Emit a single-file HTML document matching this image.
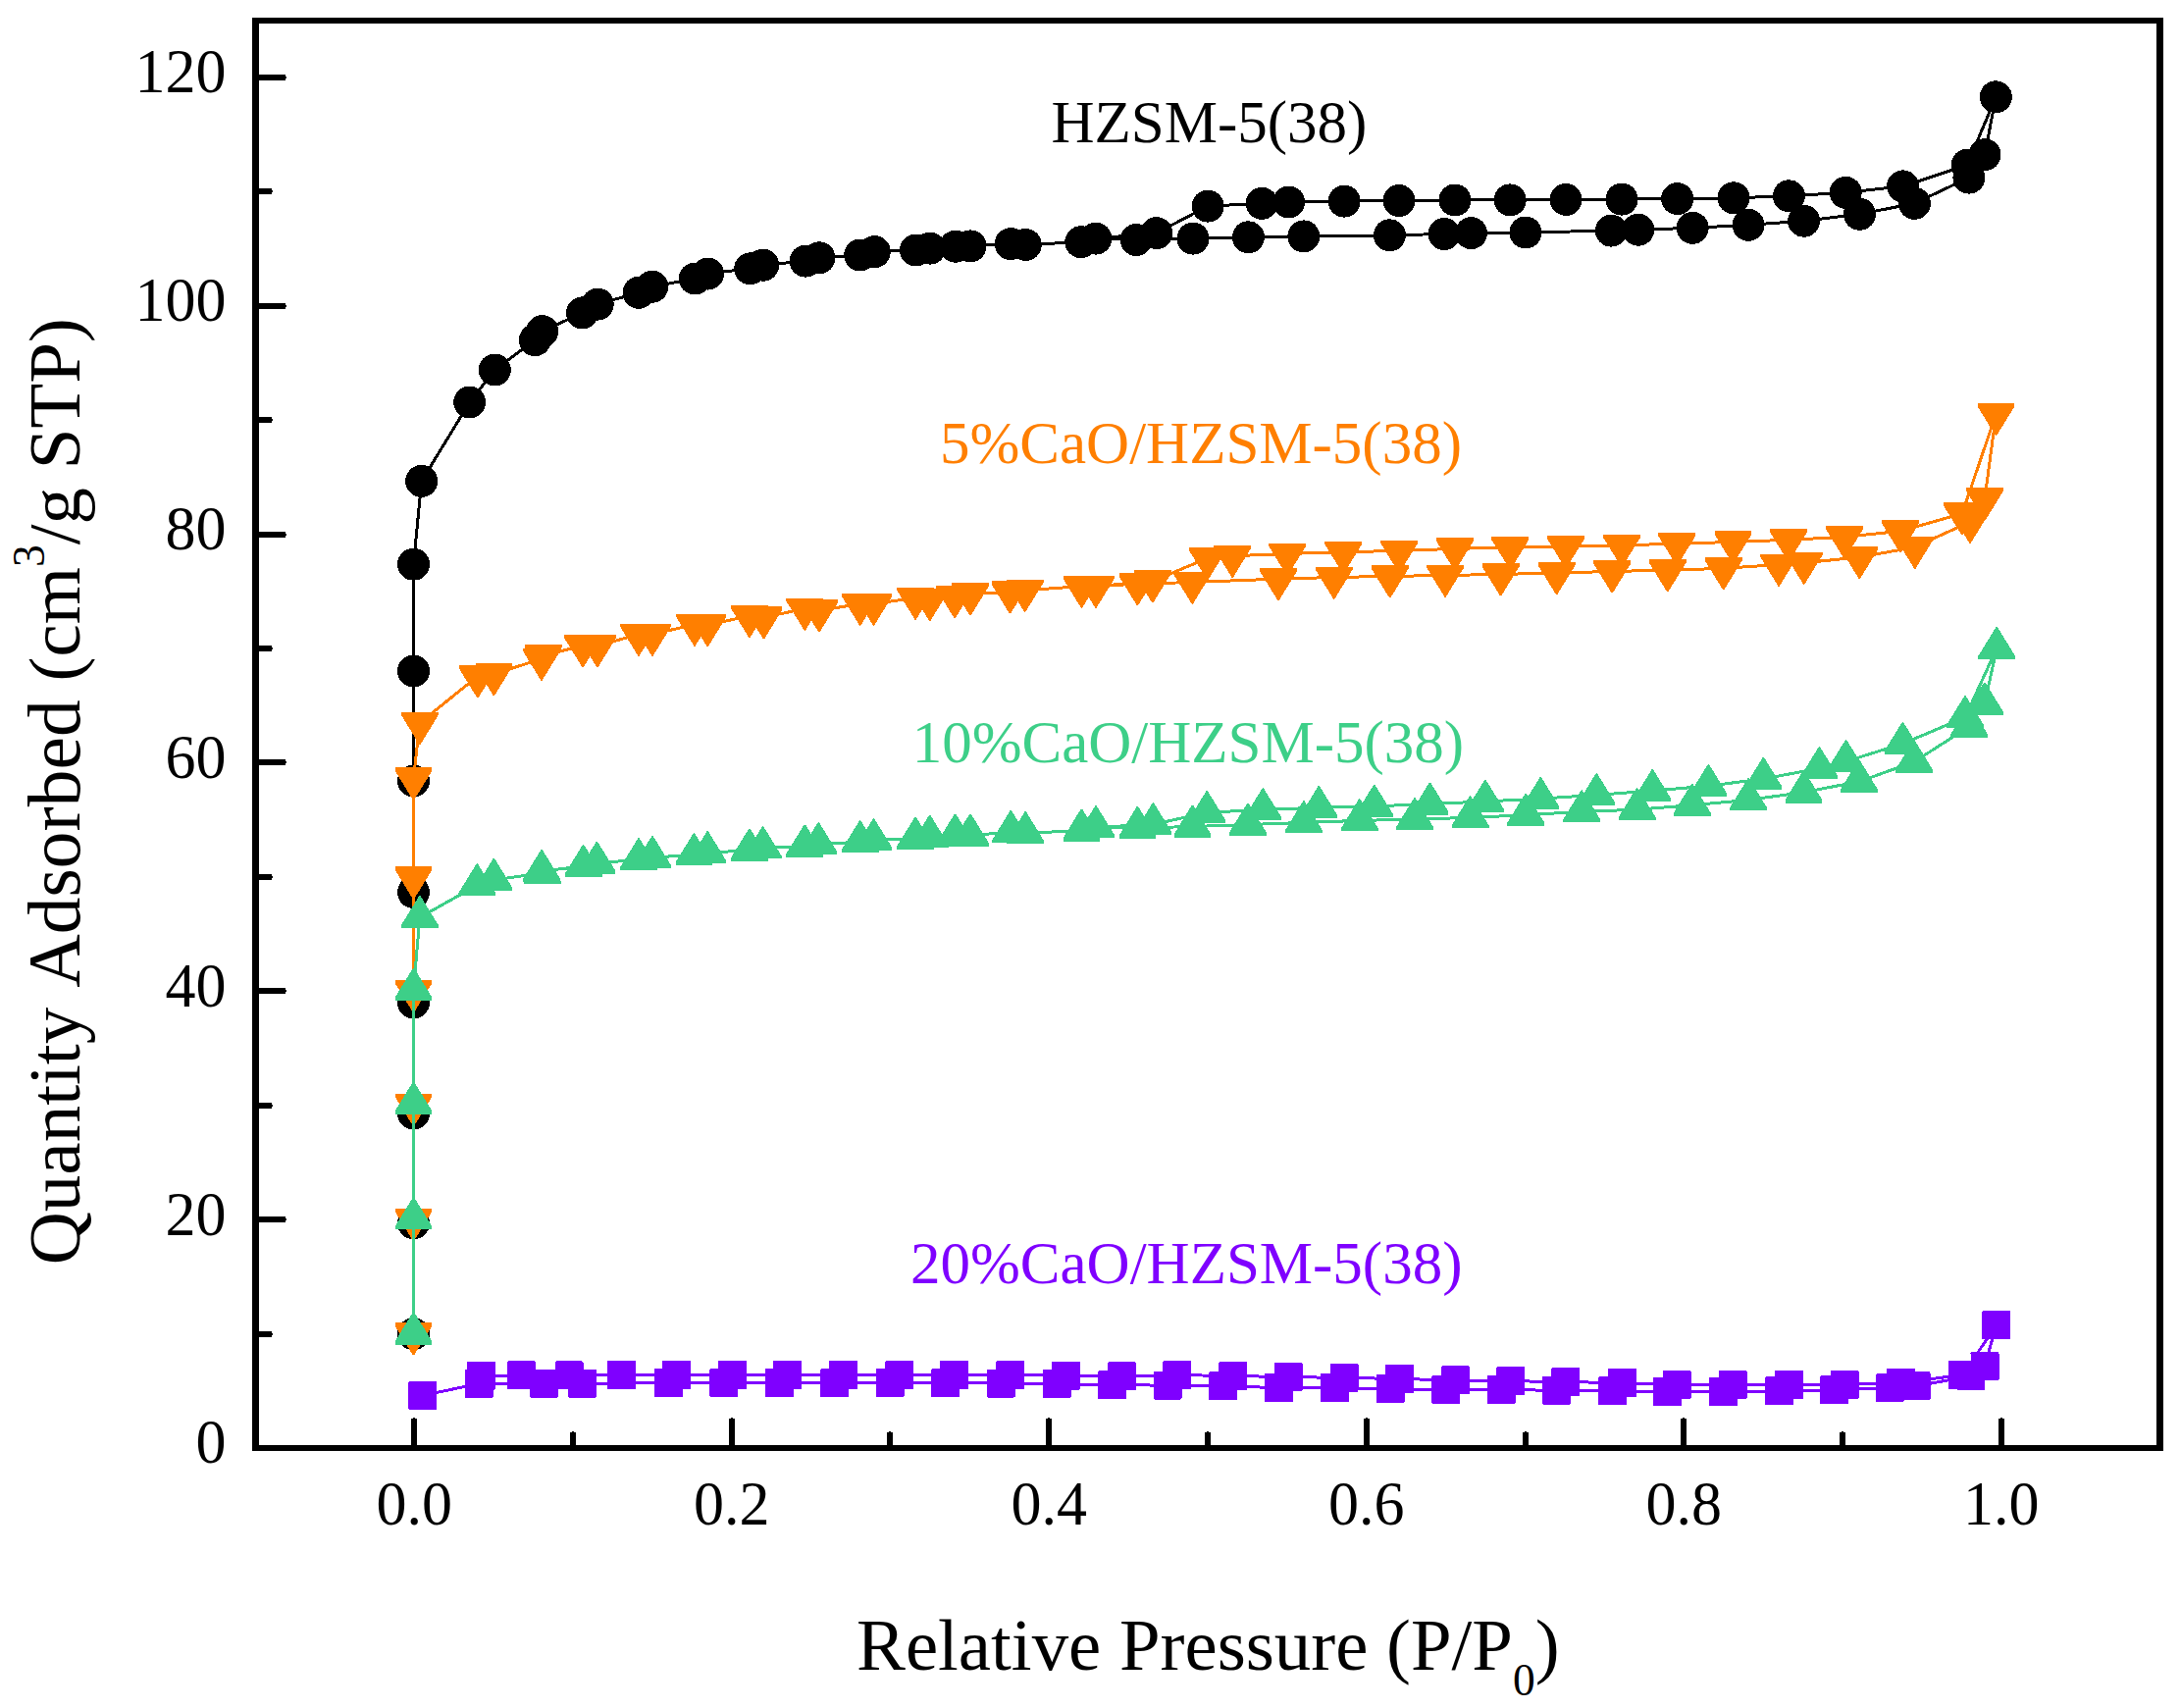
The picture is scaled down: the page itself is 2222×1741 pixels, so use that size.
<!DOCTYPE html>
<html lang="en">
<head>
<meta charset="utf-8">
<title>N2 adsorption-desorption isotherms</title>
<style>
html,body{margin:0;padding:0;background:#fff;}
body{width:2222px;height:1741px;overflow:hidden;}
svg{display:block;}
text{white-space:pre;}
</style>
</head>
<body>
<svg width="2222" height="1741" viewBox="0 0 2222 1741">
<rect width="2222" height="1741" fill="#fff"/>
<g id="series" shape-rendering="crispEdges">
<g id="s-black" fill="#000000">
<polyline points="421.5,1359.7 421.5,1246.8 421.5,1135 421.5,1021.9 421.5,909.5 421.5,795.9 421.5,684.1 421.5,575.2 429.7,490.4 478.7,410 504.3,377 545.3,346.7 552.8,337.6 593.5,318.9 609.2,310.1 651,298.3 664.8,292.2 708.3,284 721.5,279 764.7,273.8 777.7,270.2 821.1,266.1 834.9,262.8 876.7,260 891.3,256.7 933.4,255 947.8,253.1 973.9,251.2 989,250.9 1030.2,248.6 1045.3,249.5 1101.8,246.7 1116.9,243.1 1158.2,244.5" fill="none" stroke="#000000" stroke-width="3" stroke-linejoin="round"/>
<polyline points="1158.2,244.5 1216,243.1 1272.4,241.8 1328.8,240.9 1416.4,239.8 1472,238.5 1499.5,237.6 1555,237 1642.3,235.1 1669.8,234.2 1725.2,232.3 1782.1,229.3 1838.6,225.2 1895.5,218.3 1951.4,207.3 2006.9,181.1 2023,157.7 2034.3,98.8" fill="none" stroke="#000000" stroke-width="3" stroke-linejoin="round"/>
<polyline points="2034.3,98.8 2005.1,168.2 1939.6,189.9 1881.2,196.3 1823.4,199.8 1767,201.8 1709.7,202.6 1653,203.1 1596.1,203.4 1539.2,203.9 1483,204 1426,204.6 1370.1,205.1 1313.7,206 1286.2,207.3 1231.1,210.1 1178.8,237.6 1116.9,243.1" fill="none" stroke="#000000" stroke-width="3" stroke-linejoin="round"/>
<circle cx="421.5" cy="1359.7" r="16.5"/>
<circle cx="421.5" cy="1246.8" r="16.5"/>
<circle cx="421.5" cy="1135" r="16.5"/>
<circle cx="421.5" cy="1021.9" r="16.5"/>
<circle cx="421.5" cy="909.5" r="16.5"/>
<circle cx="421.5" cy="795.9" r="16.5"/>
<circle cx="421.5" cy="684.1" r="16.5"/>
<circle cx="421.5" cy="575.2" r="16.5"/>
<circle cx="429.7" cy="490.4" r="16.5"/>
<circle cx="478.7" cy="410" r="16.5"/>
<circle cx="504.3" cy="377" r="16.5"/>
<circle cx="545.3" cy="346.7" r="16.5"/>
<circle cx="552.8" cy="337.6" r="16.5"/>
<circle cx="593.5" cy="318.9" r="16.5"/>
<circle cx="609.2" cy="310.1" r="16.5"/>
<circle cx="651" cy="298.3" r="16.5"/>
<circle cx="664.8" cy="292.2" r="16.5"/>
<circle cx="708.3" cy="284" r="16.5"/>
<circle cx="721.5" cy="279" r="16.5"/>
<circle cx="764.7" cy="273.8" r="16.5"/>
<circle cx="777.7" cy="270.2" r="16.5"/>
<circle cx="821.1" cy="266.1" r="16.5"/>
<circle cx="834.9" cy="262.8" r="16.5"/>
<circle cx="876.7" cy="260" r="16.5"/>
<circle cx="891.3" cy="256.7" r="16.5"/>
<circle cx="933.4" cy="255" r="16.5"/>
<circle cx="947.8" cy="253.1" r="16.5"/>
<circle cx="973.9" cy="251.2" r="16.5"/>
<circle cx="989" cy="250.9" r="16.5"/>
<circle cx="1030.2" cy="248.6" r="16.5"/>
<circle cx="1045.3" cy="249.5" r="16.5"/>
<circle cx="1101.8" cy="246.7" r="16.5"/>
<circle cx="1116.9" cy="243.1" r="16.5"/>
<circle cx="1158.2" cy="244.5" r="16.5"/>
<circle cx="1216" cy="243.1" r="16.5"/>
<circle cx="1272.4" cy="241.8" r="16.5"/>
<circle cx="1328.8" cy="240.9" r="16.5"/>
<circle cx="1416.4" cy="239.8" r="16.5"/>
<circle cx="1472" cy="238.5" r="16.5"/>
<circle cx="1499.5" cy="237.6" r="16.5"/>
<circle cx="1555" cy="237" r="16.5"/>
<circle cx="1642.3" cy="235.1" r="16.5"/>
<circle cx="1669.8" cy="234.2" r="16.5"/>
<circle cx="1725.2" cy="232.3" r="16.5"/>
<circle cx="1782.1" cy="229.3" r="16.5"/>
<circle cx="1838.6" cy="225.2" r="16.5"/>
<circle cx="1895.5" cy="218.3" r="16.5"/>
<circle cx="1951.4" cy="207.3" r="16.5"/>
<circle cx="2006.9" cy="181.1" r="16.5"/>
<circle cx="2023" cy="157.7" r="16.5"/>
<circle cx="2034.3" cy="98.8" r="16.5"/>
<circle cx="2005.1" cy="168.2" r="16.5"/>
<circle cx="1939.6" cy="189.9" r="16.5"/>
<circle cx="1881.2" cy="196.3" r="16.5"/>
<circle cx="1823.4" cy="199.8" r="16.5"/>
<circle cx="1767" cy="201.8" r="16.5"/>
<circle cx="1709.7" cy="202.6" r="16.5"/>
<circle cx="1653" cy="203.1" r="16.5"/>
<circle cx="1596.1" cy="203.4" r="16.5"/>
<circle cx="1539.2" cy="203.9" r="16.5"/>
<circle cx="1483" cy="204" r="16.5"/>
<circle cx="1426" cy="204.6" r="16.5"/>
<circle cx="1370.1" cy="205.1" r="16.5"/>
<circle cx="1313.7" cy="206" r="16.5"/>
<circle cx="1286.2" cy="207.3" r="16.5"/>
<circle cx="1231.1" cy="210.1" r="16.5"/>
<circle cx="1178.8" cy="237.6" r="16.5"/>
</g>
<g id="s-orange" fill="#FF7F00">
<polyline points="421.5,1359.4 421.5,1242.8 421.5,1125.7 421.5,1009.9 421.5,894.4 421.5,793.4 427.9,736.8 486.9,689.4 503.4,687 552,671.6 553.7,668.1 594.1,658.2 608.9,658.2 651,646.6 665,646.6 708,636.5 721.2,637 763.9,627.9 778.5,629.3 820.3,620.5 834.9,622.4 876.7,615.5 890.5,615.5 933.1,609.5 947.7,610.9 973.1,608.1 989,605.3 1029.5,603.4 1044.6,601.8 1102.4,597.6 1117,597.6 1159.4,595.2" fill="none" stroke="#FF7F00" stroke-width="3" stroke-linejoin="round"/>
<polyline points="1159.4,595.2 1215.3,593.5 1303,590.1 1359.7,588.5 1416.7,587.4 1473.1,586.5 1529.6,585.4 1586.6,584.1 1643.2,582.4 1699.7,581.3 1756.7,579.3 1813.1,575.5 1838.7,573.7 1895.3,568 1951.8,557.7 2008,531.8 2023,508.4 2034.5,422" fill="none" stroke="#FF7F00" stroke-width="3" stroke-linejoin="round"/>
<polyline points="2034.5,422 2000,523.4 1937.1,541.4 1880,547.3 1823,550.3 1766.4,552.4 1709.2,554.3 1653,555.7 1596,557.1 1539.3,558.2 1482.9,559.3 1426.1,561.5 1369.2,562.6 1312.1,564.5 1256.2,566.7 1230.9,568.9 1174.8,592.4 1117,597.6" fill="none" stroke="#FF7F00" stroke-width="3" stroke-linejoin="round"/>
<path d="M402.6 1348.4h37.8v3.2L422.1 1381.4h-1.2L402.6 1351.6z"/>
<path d="M402.6 1231.8h37.8v3.2L422.1 1264.8h-1.2L402.6 1235z"/>
<path d="M402.6 1114.7h37.8v3.2L422.1 1147.7h-1.2L402.6 1117.9z"/>
<path d="M402.6 998.9h37.8v3.2L422.1 1031.9h-1.2L402.6 1002.1z"/>
<path d="M402.6 883.4h37.8v3.2L422.1 916.4h-1.2L402.6 886.6z"/>
<path d="M402.6 782.4h37.8v3.2L422.1 815.4h-1.2L402.6 785.6z"/>
<path d="M409 725.8h37.8v3.2L428.5 758.8h-1.2L409 729z"/>
<path d="M468 678.4h37.8v3.2L487.5 711.4h-1.2L468 681.6z"/>
<path d="M484.5 676h37.8v3.2L504 709h-1.2L484.5 679.2z"/>
<path d="M533.1 660.6h37.8v3.2L552.6 693.6h-1.2L533.1 663.8z"/>
<path d="M534.8 657.1h37.8v3.2L554.3 690.1h-1.2L534.8 660.3z"/>
<path d="M575.2 647.2h37.8v3.2L594.7 680.2h-1.2L575.2 650.4z"/>
<path d="M590 647.2h37.8v3.2L609.5 680.2h-1.2L590 650.4z"/>
<path d="M632.1 635.6h37.8v3.2L651.6 668.6h-1.2L632.1 638.8z"/>
<path d="M646.1 635.6h37.8v3.2L665.6 668.6h-1.2L646.1 638.8z"/>
<path d="M689.1 625.5h37.8v3.2L708.6 658.5h-1.2L689.1 628.7z"/>
<path d="M702.3 626h37.8v3.2L721.8 659h-1.2L702.3 629.2z"/>
<path d="M745 616.9h37.8v3.2L764.5 649.9h-1.2L745 620.1z"/>
<path d="M759.6 618.3h37.8v3.2L779.1 651.3h-1.2L759.6 621.5z"/>
<path d="M801.4 609.5h37.8v3.2L820.9 642.5h-1.2L801.4 612.7z"/>
<path d="M816 611.4h37.8v3.2L835.5 644.4h-1.2L816 614.6z"/>
<path d="M857.8 604.5h37.8v3.2L877.3 637.5h-1.2L857.8 607.7z"/>
<path d="M871.6 604.5h37.8v3.2L891.1 637.5h-1.2L871.6 607.7z"/>
<path d="M914.2 598.5h37.8v3.2L933.7 631.5h-1.2L914.2 601.7z"/>
<path d="M928.8 599.9h37.8v3.2L948.3 632.9h-1.2L928.8 603.1z"/>
<path d="M954.2 597.1h37.8v3.2L973.7 630.1h-1.2L954.2 600.3z"/>
<path d="M970.1 594.3h37.8v3.2L989.6 627.3h-1.2L970.1 597.5z"/>
<path d="M1010.6 592.4h37.8v3.2L1030.1 625.4h-1.2L1010.6 595.6z"/>
<path d="M1025.7 590.8h37.8v3.2L1045.2 623.8h-1.2L1025.7 594z"/>
<path d="M1083.5 586.6h37.8v3.2L1103 619.6h-1.2L1083.5 589.8z"/>
<path d="M1098.1 586.6h37.8v3.2L1117.6 619.6h-1.2L1098.1 589.8z"/>
<path d="M1140.5 584.2h37.8v3.2L1160 617.2h-1.2L1140.5 587.4z"/>
<path d="M1196.4 582.5h37.8v3.2L1215.9 615.5h-1.2L1196.4 585.7z"/>
<path d="M1284.1 579.1h37.8v3.2L1303.6 612.1h-1.2L1284.1 582.3z"/>
<path d="M1340.8 577.5h37.8v3.2L1360.3 610.5h-1.2L1340.8 580.7z"/>
<path d="M1397.8 576.4h37.8v3.2L1417.3 609.4h-1.2L1397.8 579.6z"/>
<path d="M1454.2 575.5h37.8v3.2L1473.7 608.5h-1.2L1454.2 578.7z"/>
<path d="M1510.7 574.4h37.8v3.2L1530.2 607.4h-1.2L1510.7 577.6z"/>
<path d="M1567.7 573.1h37.8v3.2L1587.2 606.1h-1.2L1567.7 576.3z"/>
<path d="M1624.3 571.4h37.8v3.2L1643.8 604.4h-1.2L1624.3 574.6z"/>
<path d="M1680.8 570.3h37.8v3.2L1700.3 603.3h-1.2L1680.8 573.5z"/>
<path d="M1737.8 568.3h37.8v3.2L1757.3 601.3h-1.2L1737.8 571.5z"/>
<path d="M1794.2 564.5h37.8v3.2L1813.7 597.5h-1.2L1794.2 567.7z"/>
<path d="M1819.8 562.7h37.8v3.2L1839.3 595.7h-1.2L1819.8 565.9z"/>
<path d="M1876.4 557h37.8v3.2L1895.9 590h-1.2L1876.4 560.2z"/>
<path d="M1932.9 546.7h37.8v3.2L1952.4 579.7h-1.2L1932.9 549.9z"/>
<path d="M1989.1 520.8h37.8v3.2L2008.6 553.8h-1.2L1989.1 524z"/>
<path d="M2004.1 497.4h37.8v3.2L2023.6 530.4h-1.2L2004.1 500.6z"/>
<path d="M2015.6 411h37.8v3.2L2035.1 444h-1.2L2015.6 414.2z"/>
<path d="M1981.1 512.4h37.8v3.2L2000.6 545.4h-1.2L1981.1 515.6z"/>
<path d="M1918.2 530.4h37.8v3.2L1937.7 563.4h-1.2L1918.2 533.6z"/>
<path d="M1861.1 536.3h37.8v3.2L1880.6 569.3h-1.2L1861.1 539.5z"/>
<path d="M1804.1 539.3h37.8v3.2L1823.6 572.3h-1.2L1804.1 542.5z"/>
<path d="M1747.5 541.4h37.8v3.2L1767 574.4h-1.2L1747.5 544.6z"/>
<path d="M1690.3 543.3h37.8v3.2L1709.8 576.3h-1.2L1690.3 546.5z"/>
<path d="M1634.1 544.7h37.8v3.2L1653.6 577.7h-1.2L1634.1 547.9z"/>
<path d="M1577.1 546.1h37.8v3.2L1596.6 579.1h-1.2L1577.1 549.3z"/>
<path d="M1520.4 547.2h37.8v3.2L1539.9 580.2h-1.2L1520.4 550.4z"/>
<path d="M1464 548.3h37.8v3.2L1483.5 581.3h-1.2L1464 551.5z"/>
<path d="M1407.2 550.5h37.8v3.2L1426.7 583.5h-1.2L1407.2 553.7z"/>
<path d="M1350.3 551.6h37.8v3.2L1369.8 584.6h-1.2L1350.3 554.8z"/>
<path d="M1293.2 553.5h37.8v3.2L1312.7 586.5h-1.2L1293.2 556.7z"/>
<path d="M1237.3 555.7h37.8v3.2L1256.8 588.7h-1.2L1237.3 558.9z"/>
<path d="M1212 557.9h37.8v3.2L1231.5 590.9h-1.2L1212 561.1z"/>
<path d="M1155.9 581.4h37.8v3.2L1175.4 614.4h-1.2L1155.9 584.6z"/>
</g>
<g id="s-green" fill="#3DCF88">
<polyline points="421.5,1359.5 421.5,1242.4 421.5,1124.7 421.5,1008.9 427.9,935.1 486.3,902.4 503.4,897 552.6,889.9 552.1,888 594.6,883 608.4,879.8 651,876.3 665,874.1 707.4,871.3 721.2,869.3 763.9,866.6 777.6,864.4 820.3,862.5 834.3,860.3 876.7,858.3 890.5,856.4 933.1,854.8 947.7,852.8 973.6,851.5 989,851.5 1030.3,848.2 1045.2,849.3 1102.4,846.5 1117,843.2 1159.4,844" fill="none" stroke="#3DCF88" stroke-width="3" stroke-linejoin="round"/>
<polyline points="1159.4,844 1215.5,842.5 1271.9,840.6 1328.9,838.4 1385.8,836.4 1442,835.1 1498.6,833.4 1555.3,830.7 1612.2,827.4 1668.6,825.2 1724.8,820.7 1782.1,815.4 1838.4,807.6 1894.9,796.7 1951,776.6 2007.1,740.6 2022.8,717.5 2035.2,661" fill="none" stroke="#3DCF88" stroke-width="3" stroke-linejoin="round"/>
<polyline points="2035.2,661 2003,731.2 1939.4,758.1 1881.6,776.1 1854.4,783.2 1797.4,793.9 1741.4,801.1 1684.3,806.1 1627.3,810.3 1570.3,814.1 1513.9,816.9 1457.5,819.6 1400.8,821.8 1344.3,823.2 1287.3,825.4 1230.2,828.2 1175.4,840.4 1117,843.2" fill="none" stroke="#3DCF88" stroke-width="3" stroke-linejoin="round"/>
<path d="M402.6 1370.5h37.8v-3.2L422.1 1337.5h-1.2L402.6 1367.3z"/>
<path d="M402.6 1253.4h37.8v-3.2L422.1 1220.4h-1.2L402.6 1250.2z"/>
<path d="M402.6 1135.7h37.8v-3.2L422.1 1102.7h-1.2L402.6 1132.5z"/>
<path d="M402.6 1019.9h37.8v-3.2L422.1 986.9h-1.2L402.6 1016.7z"/>
<path d="M409 946.1h37.8v-3.2L428.5 913.1h-1.2L409 942.9z"/>
<path d="M467.4 913.4h37.8v-3.2L486.9 880.4h-1.2L467.4 910.2z"/>
<path d="M484.5 908h37.8v-3.2L504 875h-1.2L484.5 904.8z"/>
<path d="M533.7 900.9h37.8v-3.2L553.2 867.9h-1.2L533.7 897.7z"/>
<path d="M533.2 899h37.8v-3.2L552.7 866h-1.2L533.2 895.8z"/>
<path d="M575.7 894h37.8v-3.2L595.2 861h-1.2L575.7 890.8z"/>
<path d="M589.5 890.8h37.8v-3.2L609 857.8h-1.2L589.5 887.6z"/>
<path d="M632.1 887.3h37.8v-3.2L651.6 854.3h-1.2L632.1 884.1z"/>
<path d="M646.1 885.1h37.8v-3.2L665.6 852.1h-1.2L646.1 881.9z"/>
<path d="M688.5 882.3h37.8v-3.2L708 849.3h-1.2L688.5 879.1z"/>
<path d="M702.3 880.3h37.8v-3.2L721.8 847.3h-1.2L702.3 877.1z"/>
<path d="M745 877.6h37.8v-3.2L764.5 844.6h-1.2L745 874.4z"/>
<path d="M758.7 875.4h37.8v-3.2L778.2 842.4h-1.2L758.7 872.2z"/>
<path d="M801.4 873.5h37.8v-3.2L820.9 840.5h-1.2L801.4 870.3z"/>
<path d="M815.4 871.3h37.8v-3.2L834.9 838.3h-1.2L815.4 868.1z"/>
<path d="M857.8 869.3h37.8v-3.2L877.3 836.3h-1.2L857.8 866.1z"/>
<path d="M871.6 867.4h37.8v-3.2L891.1 834.4h-1.2L871.6 864.2z"/>
<path d="M914.2 865.8h37.8v-3.2L933.7 832.8h-1.2L914.2 862.6z"/>
<path d="M928.8 863.8h37.8v-3.2L948.3 830.8h-1.2L928.8 860.6z"/>
<path d="M954.7 862.5h37.8v-3.2L974.2 829.5h-1.2L954.7 859.3z"/>
<path d="M970.1 862.5h37.8v-3.2L989.6 829.5h-1.2L970.1 859.3z"/>
<path d="M1011.4 859.2h37.8v-3.2L1030.9 826.2h-1.2L1011.4 856z"/>
<path d="M1026.3 860.3h37.8v-3.2L1045.8 827.3h-1.2L1026.3 857.1z"/>
<path d="M1083.5 857.5h37.8v-3.2L1103 824.5h-1.2L1083.5 854.3z"/>
<path d="M1098.1 854.2h37.8v-3.2L1117.6 821.2h-1.2L1098.1 851z"/>
<path d="M1140.5 855h37.8v-3.2L1160 822h-1.2L1140.5 851.8z"/>
<path d="M1196.6 853.5h37.8v-3.2L1216.1 820.5h-1.2L1196.6 850.3z"/>
<path d="M1253 851.6h37.8v-3.2L1272.5 818.6h-1.2L1253 848.4z"/>
<path d="M1310 849.4h37.8v-3.2L1329.5 816.4h-1.2L1310 846.2z"/>
<path d="M1366.9 847.4h37.8v-3.2L1386.4 814.4h-1.2L1366.9 844.2z"/>
<path d="M1423.1 846.1h37.8v-3.2L1442.6 813.1h-1.2L1423.1 842.9z"/>
<path d="M1479.7 844.4h37.8v-3.2L1499.2 811.4h-1.2L1479.7 841.2z"/>
<path d="M1536.4 841.7h37.8v-3.2L1555.9 808.7h-1.2L1536.4 838.5z"/>
<path d="M1593.3 838.4h37.8v-3.2L1612.8 805.4h-1.2L1593.3 835.2z"/>
<path d="M1649.7 836.2h37.8v-3.2L1669.2 803.2h-1.2L1649.7 833z"/>
<path d="M1705.9 831.7h37.8v-3.2L1725.4 798.7h-1.2L1705.9 828.5z"/>
<path d="M1763.2 826.4h37.8v-3.2L1782.7 793.4h-1.2L1763.2 823.2z"/>
<path d="M1819.5 818.6h37.8v-3.2L1839 785.6h-1.2L1819.5 815.4z"/>
<path d="M1876 807.7h37.8v-3.2L1895.5 774.7h-1.2L1876 804.5z"/>
<path d="M1932.1 787.6h37.8v-3.2L1951.6 754.6h-1.2L1932.1 784.4z"/>
<path d="M1988.2 751.6h37.8v-3.2L2007.7 718.6h-1.2L1988.2 748.4z"/>
<path d="M2003.9 728.5h37.8v-3.2L2023.4 695.5h-1.2L2003.9 725.3z"/>
<path d="M2016.3 672h37.8v-3.2L2035.8 639h-1.2L2016.3 668.8z"/>
<path d="M1984.1 742.2h37.8v-3.2L2003.6 709.2h-1.2L1984.1 739z"/>
<path d="M1920.5 769.1h37.8v-3.2L1940 736.1h-1.2L1920.5 765.9z"/>
<path d="M1862.7 787.1h37.8v-3.2L1882.2 754.1h-1.2L1862.7 783.9z"/>
<path d="M1835.5 794.2h37.8v-3.2L1855 761.2h-1.2L1835.5 791z"/>
<path d="M1778.5 804.9h37.8v-3.2L1798 771.9h-1.2L1778.5 801.7z"/>
<path d="M1722.5 812.1h37.8v-3.2L1742 779.1h-1.2L1722.5 808.9z"/>
<path d="M1665.4 817.1h37.8v-3.2L1684.9 784.1h-1.2L1665.4 813.9z"/>
<path d="M1608.4 821.3h37.8v-3.2L1627.9 788.3h-1.2L1608.4 818.1z"/>
<path d="M1551.4 825.1h37.8v-3.2L1570.9 792.1h-1.2L1551.4 821.9z"/>
<path d="M1495 827.9h37.8v-3.2L1514.5 794.9h-1.2L1495 824.7z"/>
<path d="M1438.6 830.6h37.8v-3.2L1458.1 797.6h-1.2L1438.6 827.4z"/>
<path d="M1381.9 832.8h37.8v-3.2L1401.4 799.8h-1.2L1381.9 829.6z"/>
<path d="M1325.4 834.2h37.8v-3.2L1344.9 801.2h-1.2L1325.4 831z"/>
<path d="M1268.4 836.4h37.8v-3.2L1287.9 803.4h-1.2L1268.4 833.2z"/>
<path d="M1211.3 839.2h37.8v-3.2L1230.8 806.2h-1.2L1211.3 836z"/>
<path d="M1156.5 851.4h37.8v-3.2L1176 818.4h-1.2L1156.5 848.2z"/>
</g>
<g id="s-purple" fill="#7F00FF">
<polyline points="430.7,1422.5 488.2,1410.4 554.6,1410.2 593.9,1410.2 681.4,1409.7 737.9,1409.7 794.3,1409.7 850.7,1409.7 907.2,1409.7 963.6,1409.7 1020.4,1410 1077.1,1410.8 1133.5,1411.8 1190.1,1412.1 1246.7,1412.9 1303.5,1414.6 1360.4,1414.6 1417.2,1415.7 1473.8,1416.6 1530.1,1416.7 1586.4,1417.2 1643.3,1417.9 1699.3,1418.7 1756.4,1418.7 1813.4,1417.9 1869.3,1416.9 1926.2,1414.8 1953.1,1412.8 2008.8,1402.7 2023,1392.5 2034.7,1350.7" fill="none" stroke="#7F00FF" stroke-width="3" stroke-linejoin="round"/>
<polyline points="2034.7,1350.7 2000.6,1401.4 1937.5,1409.6 1880.1,1411.4 1823.4,1411.4 1766.3,1411.4 1709.3,1411.4 1653.5,1409.6 1595.9,1408.6 1539.8,1407.7 1483.3,1406.9 1426.6,1405.5 1370,1404.4 1313.3,1403.6 1256.9,1402.5 1199.9,1401.6 1143.5,1402.7 1086.6,1402.2 1029.9,1401.6 972.7,1401.4 916.7,1401.6 859.5,1401.6 802.4,1401.6 746.4,1401.6 689.6,1401.6 633.4,1401.6 580,1401.9 531.7,1401.9 490.7,1402.2" fill="none" stroke="#7F00FF" stroke-width="3" stroke-linejoin="round"/>
<rect x="416.2" y="1408" width="29" height="29" rx="1.5"/>
<rect x="473.7" y="1395.9" width="29" height="29" rx="1.5"/>
<rect x="540.1" y="1395.7" width="29" height="29" rx="1.5"/>
<rect x="579.4" y="1395.7" width="29" height="29" rx="1.5"/>
<rect x="666.9" y="1395.2" width="29" height="29" rx="1.5"/>
<rect x="723.4" y="1395.2" width="29" height="29" rx="1.5"/>
<rect x="779.8" y="1395.2" width="29" height="29" rx="1.5"/>
<rect x="836.2" y="1395.2" width="29" height="29" rx="1.5"/>
<rect x="892.7" y="1395.2" width="29" height="29" rx="1.5"/>
<rect x="949.1" y="1395.2" width="29" height="29" rx="1.5"/>
<rect x="1005.9" y="1395.5" width="29" height="29" rx="1.5"/>
<rect x="1062.6" y="1396.3" width="29" height="29" rx="1.5"/>
<rect x="1119" y="1397.3" width="29" height="29" rx="1.5"/>
<rect x="1175.6" y="1397.6" width="29" height="29" rx="1.5"/>
<rect x="1232.2" y="1398.4" width="29" height="29" rx="1.5"/>
<rect x="1289" y="1400.1" width="29" height="29" rx="1.5"/>
<rect x="1345.9" y="1400.1" width="29" height="29" rx="1.5"/>
<rect x="1402.7" y="1401.2" width="29" height="29" rx="1.5"/>
<rect x="1459.3" y="1402.1" width="29" height="29" rx="1.5"/>
<rect x="1515.6" y="1402.2" width="29" height="29" rx="1.5"/>
<rect x="1571.9" y="1402.7" width="29" height="29" rx="1.5"/>
<rect x="1628.8" y="1403.4" width="29" height="29" rx="1.5"/>
<rect x="1684.8" y="1404.2" width="29" height="29" rx="1.5"/>
<rect x="1741.9" y="1404.2" width="29" height="29" rx="1.5"/>
<rect x="1798.9" y="1403.4" width="29" height="29" rx="1.5"/>
<rect x="1854.8" y="1402.4" width="29" height="29" rx="1.5"/>
<rect x="1911.7" y="1400.3" width="29" height="29" rx="1.5"/>
<rect x="1938.6" y="1398.3" width="29" height="29" rx="1.5"/>
<rect x="1994.3" y="1388.2" width="29" height="29" rx="1.5"/>
<rect x="2008.5" y="1378" width="29" height="29" rx="1.5"/>
<rect x="2020.2" y="1336.2" width="29" height="29" rx="1.5"/>
<rect x="1986.1" y="1386.9" width="29" height="29" rx="1.5"/>
<rect x="1923" y="1395.1" width="29" height="29" rx="1.5"/>
<rect x="1865.6" y="1396.9" width="29" height="29" rx="1.5"/>
<rect x="1808.9" y="1396.9" width="29" height="29" rx="1.5"/>
<rect x="1751.8" y="1396.9" width="29" height="29" rx="1.5"/>
<rect x="1694.8" y="1396.9" width="29" height="29" rx="1.5"/>
<rect x="1639" y="1395.1" width="29" height="29" rx="1.5"/>
<rect x="1581.4" y="1394.1" width="29" height="29" rx="1.5"/>
<rect x="1525.3" y="1393.2" width="29" height="29" rx="1.5"/>
<rect x="1468.8" y="1392.4" width="29" height="29" rx="1.5"/>
<rect x="1412.1" y="1391" width="29" height="29" rx="1.5"/>
<rect x="1355.5" y="1389.9" width="29" height="29" rx="1.5"/>
<rect x="1298.8" y="1389.1" width="29" height="29" rx="1.5"/>
<rect x="1242.4" y="1388" width="29" height="29" rx="1.5"/>
<rect x="1185.4" y="1387.1" width="29" height="29" rx="1.5"/>
<rect x="1129" y="1388.2" width="29" height="29" rx="1.5"/>
<rect x="1072.1" y="1387.7" width="29" height="29" rx="1.5"/>
<rect x="1015.4" y="1387.1" width="29" height="29" rx="1.5"/>
<rect x="958.2" y="1386.9" width="29" height="29" rx="1.5"/>
<rect x="902.2" y="1387.1" width="29" height="29" rx="1.5"/>
<rect x="845" y="1387.1" width="29" height="29" rx="1.5"/>
<rect x="787.9" y="1387.1" width="29" height="29" rx="1.5"/>
<rect x="731.9" y="1387.1" width="29" height="29" rx="1.5"/>
<rect x="675.1" y="1387.1" width="29" height="29" rx="1.5"/>
<rect x="618.9" y="1387.1" width="29" height="29" rx="1.5"/>
<rect x="565.5" y="1387.4" width="29" height="29" rx="1.5"/>
<rect x="517.2" y="1387.4" width="29" height="29" rx="1.5"/>
<rect x="476.2" y="1387.7" width="29" height="29" rx="1.5"/>
</g>
</g>
<g id="axes" fill="#000" shape-rendering="crispEdges">
<rect x="257" y="18" width="7" height="1461"/>
<rect x="2198" y="18" width="7" height="1461"/>
<rect x="257" y="18" width="1948" height="6"/>
<rect x="257" y="1473" width="1948" height="6"/>
<rect x="263" y="1357" width="14" height="6"/>
<rect x="277" y="1359" width="1" height="2"/>
<rect x="263" y="1240" width="28" height="6"/>
<rect x="291" y="1242" width="1" height="2"/>
<rect x="263" y="1124" width="14" height="6"/>
<rect x="277" y="1126" width="1" height="2"/>
<rect x="263" y="1007" width="28" height="6"/>
<rect x="291" y="1009" width="1" height="2"/>
<rect x="263" y="891" width="14" height="6"/>
<rect x="277" y="893" width="1" height="2"/>
<rect x="263" y="774" width="28" height="6"/>
<rect x="291" y="776" width="1" height="2"/>
<rect x="263" y="658" width="14" height="6"/>
<rect x="277" y="660" width="1" height="2"/>
<rect x="263" y="542" width="28" height="6"/>
<rect x="291" y="544" width="1" height="2"/>
<rect x="263" y="425" width="14" height="6"/>
<rect x="277" y="427" width="1" height="2"/>
<rect x="263" y="309" width="28" height="6"/>
<rect x="291" y="311" width="1" height="2"/>
<rect x="263" y="192" width="14" height="6"/>
<rect x="277" y="194" width="1" height="2"/>
<rect x="263" y="76" width="28" height="6"/>
<rect x="291" y="78" width="1" height="2"/>
<rect x="419" y="1446" width="6" height="28"/>
<rect x="421" y="1445" width="2" height="1"/>
<rect x="581" y="1460" width="6" height="14"/>
<rect x="583" y="1459" width="2" height="1"/>
<rect x="743" y="1446" width="6" height="28"/>
<rect x="745" y="1445" width="2" height="1"/>
<rect x="904" y="1460" width="6" height="14"/>
<rect x="906" y="1459" width="2" height="1"/>
<rect x="1066" y="1446" width="6" height="28"/>
<rect x="1068" y="1445" width="2" height="1"/>
<rect x="1228" y="1460" width="6" height="14"/>
<rect x="1230" y="1459" width="2" height="1"/>
<rect x="1390" y="1446" width="6" height="28"/>
<rect x="1392" y="1445" width="2" height="1"/>
<rect x="1552" y="1460" width="6" height="14"/>
<rect x="1554" y="1459" width="2" height="1"/>
<rect x="1713" y="1446" width="6" height="28"/>
<rect x="1715" y="1445" width="2" height="1"/>
<rect x="1875" y="1460" width="6" height="14"/>
<rect x="1877" y="1459" width="2" height="1"/>
<rect x="2037" y="1446" width="6" height="28"/>
<rect x="2039" y="1445" width="2" height="1"/>
</g>
<g id="ticklabels" font-family='"Liberation Serif", "Times New Roman", Times, serif' font-size="62" fill="#000">
<text transform="translate(230.5 1491.4) scale(1 1.03)" text-anchor="end">0</text>
<text transform="translate(230.5 1258.6) scale(1 1.03)" text-anchor="end">20</text>
<text transform="translate(230.5 1025.7) scale(1 1.03)" text-anchor="end">40</text>
<text transform="translate(230.5 792.9) scale(1 1.03)" text-anchor="end">60</text>
<text transform="translate(230.5 560.1) scale(1 1.03)" text-anchor="end">80</text>
<text transform="translate(230.5 327.2) scale(1 1.03)" text-anchor="end">100</text>
<text transform="translate(230.5 94.4) scale(1 1.03)" text-anchor="end">120</text>
<text transform="translate(422.2 1553.6) scale(1 1.03)" text-anchor="middle">0.0</text>
<text transform="translate(745.8 1553.6) scale(1 1.03)" text-anchor="middle">0.2</text>
<text transform="translate(1069.2 1553.6) scale(1 1.03)" text-anchor="middle">0.4</text>
<text transform="translate(1392.8 1553.6) scale(1 1.03)" text-anchor="middle">0.6</text>
<text transform="translate(1716.2 1553.6) scale(1 1.03)" text-anchor="middle">0.8</text>
<text transform="translate(2039.8 1553.6) scale(1 1.03)" text-anchor="middle">1.0</text>
</g>
<g id="labels" font-family='"Liberation Serif", "Times New Roman", Times, serif' font-size="61">
<text x="1071.5" y="145" fill="#000000">HZSM-5(38)</text>
<text x="958" y="471.6" fill="#FF7F00">5%CaO/HZSM-5(38)</text>
<text x="929.7" y="776.5" fill="#3DCF88">10%CaO/HZSM-5(38)</text>
<text x="928" y="1308" fill="#7F00FF">20%CaO/HZSM-5(38)</text>
</g>
<g id="titles" font-family='"Liberation Serif", "Times New Roman", Times, serif' fill="#000">
<text x="873" y="1702" font-size="74.8">Relative Pressure (P/P<tspan font-size="45.5" dy="25.7">0</tspan><tspan dy="-25.7">)</tspan></text>
<text transform="translate(80.8 1289.3) rotate(-90)" font-size="75.0">Quantity</text>
<text transform="translate(80.8 1006.7) rotate(-90)" font-size="75.45">Adsorbed</text>
<text transform="translate(80.8 694.4) rotate(-90)" font-size="74.9">(cm<tspan font-size="45.5" dy="-36.3">3</tspan><tspan dy="36.3">/g STP)</tspan></text>
</g>
</svg>
</body>
</html>
